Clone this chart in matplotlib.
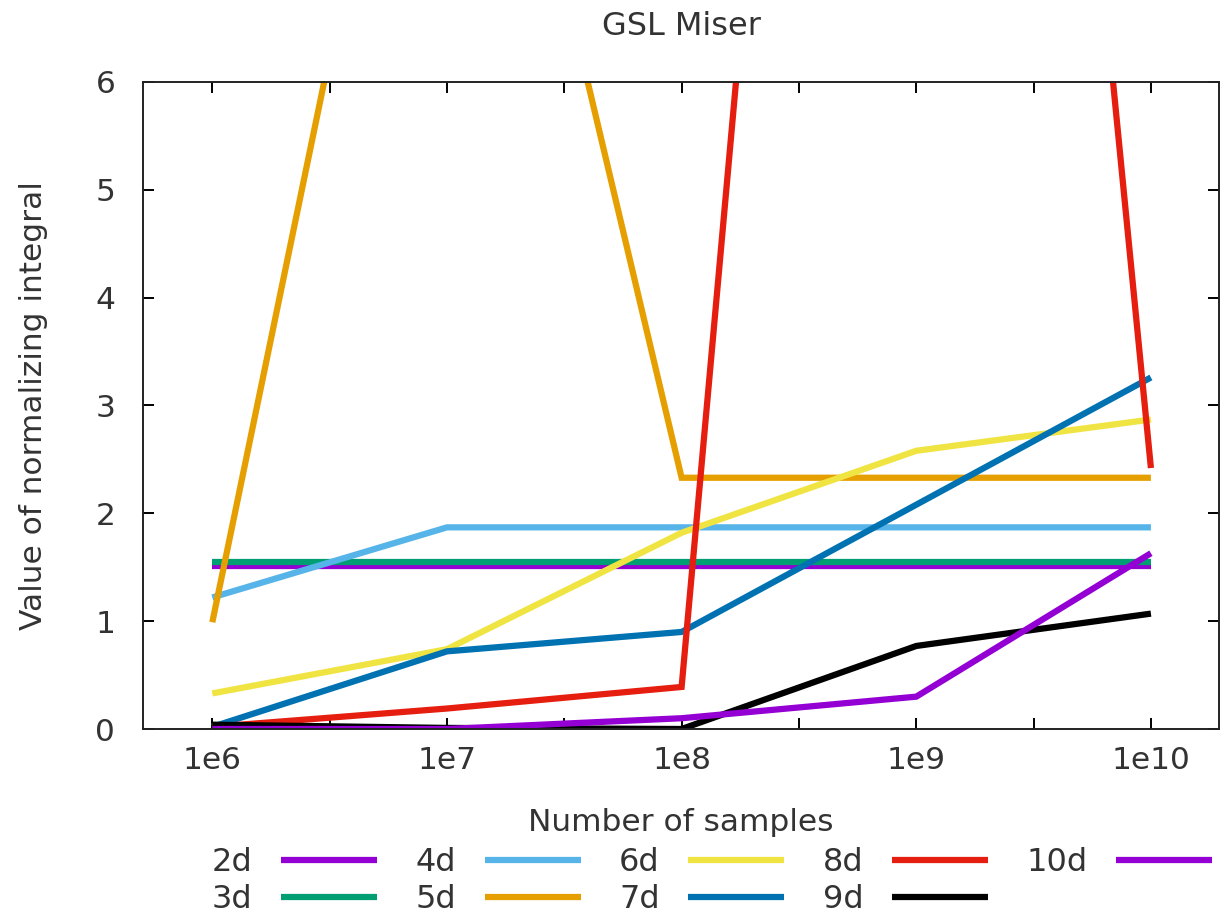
import numpy as np
import matplotlib
matplotlib.use("Agg")
import matplotlib.pyplot as plt

# sample counts (categorical x positions)
samples = ["1e6", "1e7", "1e8", "1e9", "1e10"]

# value of the normalizing integral per dimension
d2 = [1.51, 1.51, 1.51, 1.51, 1.51]
d3 = [1.55, 1.55, 1.55, 1.55, 1.55]
d4 = [1.22, 1.87, 1.87, 1.87, 1.87]
d5 = [0.99, 11.5, 2.33, 2.33, 2.33]
d6 = [0.33, 0.74, 1.82, 2.58, 2.87]
d7 = [0.02, 0.72, 0.90, 2.08, 3.26]
d8 = [0.02, 0.19, 0.39, 24.6, 2.42]
d9 = [0.04, 0.01, 0.00, 0.77, 1.07]
d10 = [0.00, 0.00, 0.10, 0.30, 1.63]

labels = ["2d", "3d", "4d", "5d", "6d", "7d", "8d", "9d", "10d"]
series = [d2, d3, d4, d5, d6, d7, d8, d9, d10]
colors = ["#9400d3", "#009e73", "#56b4e9", "#e69f00", "#f0e442",
          "#0072b2", "#e51e10", "#000000", "#9400d3"]

txt = "#333333"
plt.rcParams['font.family'] = ['DejaVu Sans']

fig = plt.figure(figsize=(12.23, 9.14), dpi=100)
ax = fig.add_axes([0.117, 0.2024, 0.8797, 0.7079])

x = np.arange(len(samples))
for lab, ys, c in zip(labels, series, colors):
    ax.plot(x, ys, color=c, lw=4.5, label=lab, solid_capstyle='butt',
            solid_joinstyle='miter')

ax.set_xlim(-0.295, 4.29)
ax.set_ylim(0, 6)

ticks = np.arange(0, 4.01, 0.5)
ax.set_xticks(ticks)
ax.set_xticklabels([samples[int(t)] if t == int(t) else "" for t in ticks])
ax.set_yticks(range(7))

ax.tick_params(direction='in', length=8, width=1.4, top=True, right=True,
               labelsize=22.5, labelcolor=txt, pad=12)
ax.tick_params(axis='y', pad=20)
for sp in ax.spines.values():
    sp.set_linewidth(1.4)
    sp.set_color('#222222')

ax.set_title("GSL Miser", fontsize=23, color=txt, pad=34)
ax.set_xlabel("Number of samples", fontsize=22.5, color=txt, labelpad=24)
ax.set_ylabel("Value of normalizing integral", fontsize=22.5, color=txt, labelpad=34)

fig.legend(loc='upper center', bbox_to_anchor=(0.582, 0.098), ncol=5,
           frameon=False, markerfirst=False, fontsize=23,
           handlelength=3.0, handletextpad=0.9, columnspacing=1.2,
           labelspacing=0.2, labelcolor=txt, borderpad=0.2)

fig.savefig("out.png", dpi=100)
